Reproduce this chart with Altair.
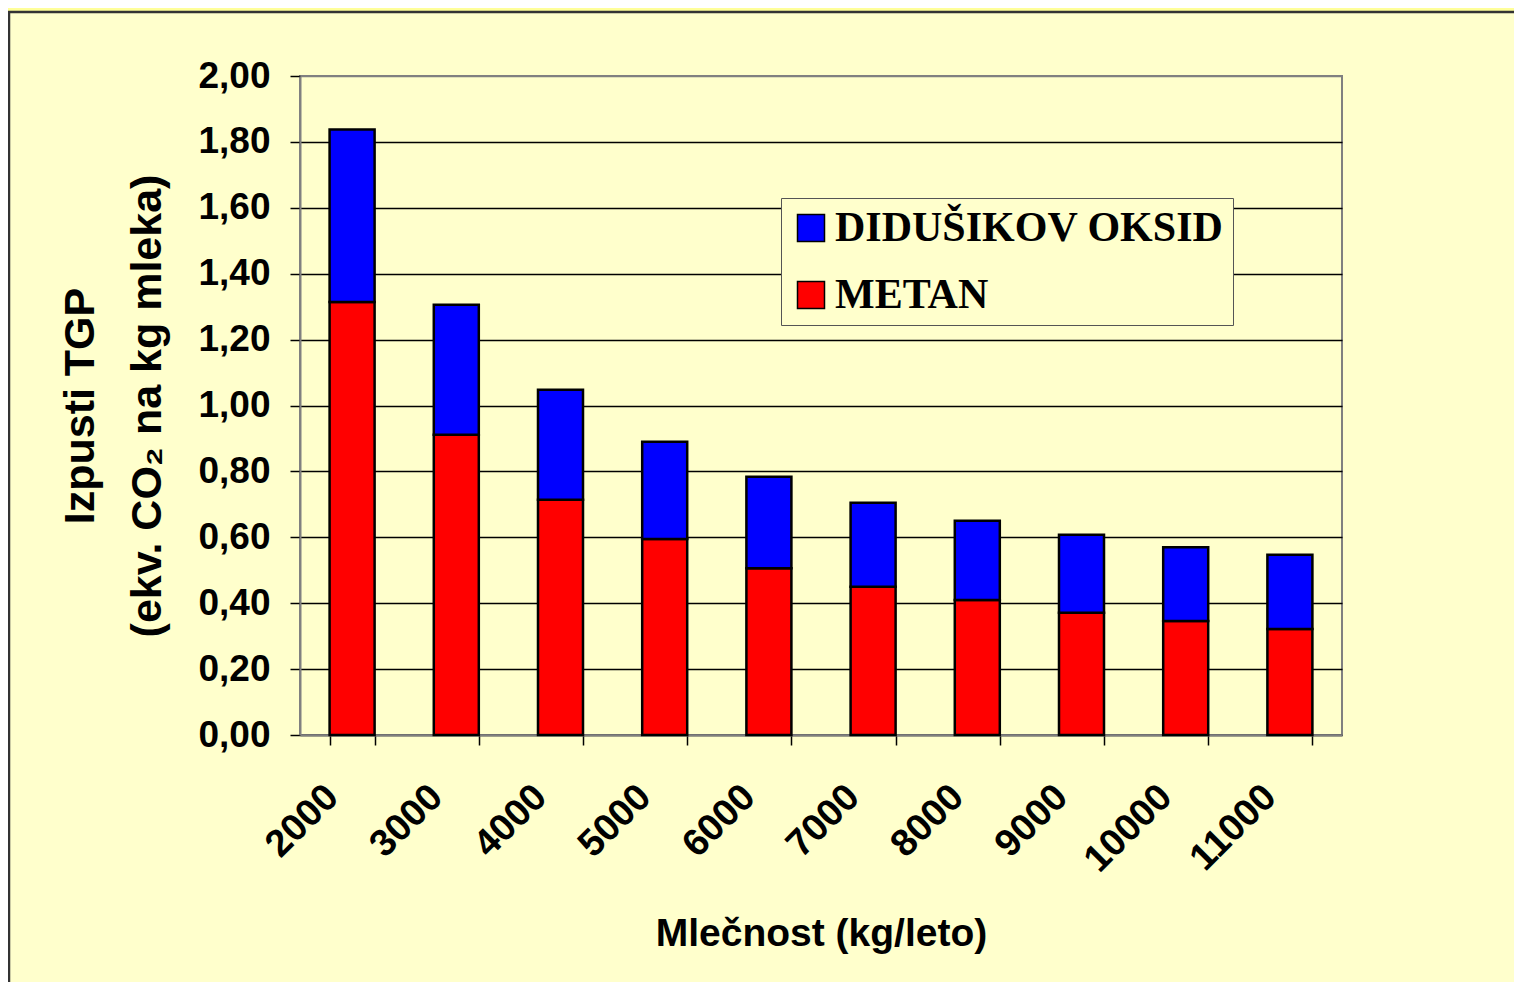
import altair as alt
import pandas as pd

# ---- data ----
milk = ["2000", "3000", "4000", "5000", "6000", "7000", "8000", "9000", "10000", "11000"]
metan = [1.314, 0.911, 0.714, 0.595, 0.506, 0.450, 0.410, 0.371, 0.346, 0.322]
didusik = [0.524, 0.395, 0.334, 0.295, 0.278, 0.255, 0.240, 0.237, 0.224, 0.225]
series = ["DIDUŠIKOV OKSID", "METAN"]
colors = ["#0000FF", "#FF0000"]
y_ticks = [0.0, 0.2, 0.4, 0.6, 0.8, 1.0, 1.2, 1.4, 1.6, 1.8, 2.0]

df = pd.DataFrame({
    "Mlečnost": milk + milk,
    "Plin": ["METAN"] * len(milk) + ["DIDUŠIKOV OKSID"] * len(milk),
    "vrednost": metan + didusik,
    "red": [0] * len(milk) + [1] * len(milk),
})

SANS = "Liberation Sans"
SERIF = "Liberation Serif"

bars = alt.Chart(df).mark_bar(stroke="black", strokeWidth=2.5).encode(
    x=alt.X(
        "Mlečnost:N",
        sort=milk,
        scale=alt.Scale(paddingInner=0.568, paddingOuter=0.284),
        axis=alt.Axis(
            title="Mlečnost (kg/leto)",
            titleFont=SANS, titleFontSize=39, titleFontWeight="bold", titleColor="black",
            titlePadding=35,
            labelFont=SANS, labelFontSize=38, labelFontWeight="bold", labelColor="black",
            labelAngle=-45, labelAlign="right", labelBaseline="middle",
            labelPadding=46, labelOffset=-20,
            tickBand="extent", tickSize=10, tickColor="black", tickWidth=1.5,
            domainColor="#808080", domainWidth=2, grid=False,
        ),
    ),
    y=alt.Y(
        "vrednost:Q",
        stack="zero",
        scale=alt.Scale(domain=[0, 2], nice=False),
        axis=alt.Axis(
            values=y_ticks,
            labelExpr="replace(format(datum.value, '.2f'), '.', ',')",
            title=["Izpusti TGP", "(ekv. CO₂ na kg mleka)"],
            titleFont=SANS, titleFontSize=43, titleFontWeight="bold", titleColor="black",
            titleLineHeight=67, titlePadding=28,
            labelFont=SANS, labelFontSize=37, labelFontWeight="bold", labelColor="black",
            labelPadding=20,
            tickSize=10, tickColor="black", tickWidth=1.5,
            domainColor="#808080", domainWidth=2,
            grid=True,
            gridColor=alt.condition("datum.value >= 2", alt.value("#808080"), alt.value("black")),
            gridWidth=1.5,
        ),
    ),
    color=alt.Color(
        "Plin:N",
        scale=alt.Scale(domain=series, range=colors),
        legend=alt.Legend(
            title=None, orient="none", legendX=481, legendY=122,
            fillColor="#FFFFCC", strokeColor="#555555", padding=9,
            labelFont=SERIF, labelFontSize=42, labelFontWeight="bold", labelColor="black",
            labelLimit=800, labelOffset=3, rowPadding=25,
            symbolType="square", symbolSize=729, symbolStrokeColor="black",
            symbolStrokeWidth=1.5, symbolOpacity=1,
        ),
    ),
    order=alt.Order("red:Q", sort="ascending"),
)

# decorative outer frame (band at the top, dark border on the left and top)
deco = pd.DataFrame({"k": [0]})
top_band = alt.Chart(deco).mark_rect(fill="#FFFF99").encode(
    x=alt.value(-292), x2=alt.value(1214), y=alt.value(-68), y2=alt.value(-65)
)
top_line = alt.Chart(deco).mark_rule(color="#333333", strokeWidth=2.5).encode(
    x=alt.value(-292), x2=alt.value(1214), y=alt.value(-64)
)
left_line = alt.Chart(deco).mark_rule(color="#333333", strokeWidth=2.5).encode(
    x=alt.value(-291), y=alt.value(-64), y2=alt.value(906)
)

chart = alt.layer(top_band, top_line, left_line, bars).properties(
    width=1042,
    height=659,
    autosize=alt.AutoSizeParams(type="none"),
    padding={"left": 292, "top": 68, "right": 172, "bottom": 247},
    background="#FFFFCC",
).configure_view(
    stroke="#808080", strokeWidth=2
)

chart.save("out.html", embed_options={"renderer": "svg", "actions": False})
